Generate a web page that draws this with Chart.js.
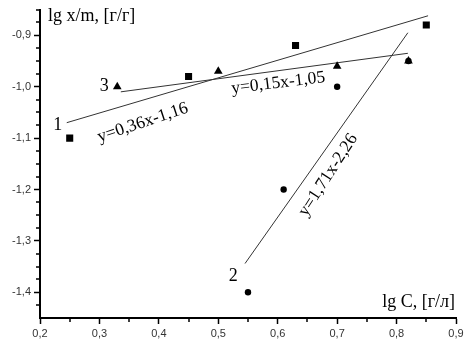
<!DOCTYPE html>
<html>
<head>
<meta charset="utf-8">
<script src="https://cdn.jsdelivr.net/npm/chart.js@4"></script>
<style>
  html, body { margin: 0; padding: 0; background: #fff; }
  #wrap { width: 471px; height: 347px; }
</style>
</head>
<body>
<div id="wrap"><canvas id="c"></canvas></div>
<script>
// lg C values and lg x/m values
const x1 = [0.25, 0.45, 0.63, 0.85];
const y1 = [-1.10, -0.98, -0.92, -0.88];
const x2 = [0.55, 0.61, 0.70, 0.82];
const y2 = [-1.40, -1.20, -1.00, -0.95];
const x3 = [0.33, 0.50, 0.70, 0.82];
const y3 = [-1.00, -0.97, -0.96, -0.95];

// fitted lines, end points as drawn
const fit1X = [0.245, 0.853];
const fit1Y = [-1.070, -0.862];
const fit2X = [0.545, 0.819];
const fit2Y = [-1.344, -0.895];
const fit3X = [0.336, 0.819];
const fit3Y = [-1.010, -0.935];

const xTicks = [0.2, 0.3, 0.4, 0.5, 0.6, 0.7, 0.8, 0.9];
const yTicks = [-1.4, -1.3, -1.2, -1.1, -1.0, -0.9];

const pts = (xs, ys) => xs.map((x, i) => ({ x: x, y: ys[i] }));
const fmt = v => v.toFixed(1).replace('.', ',');

// text written on the plot, anchored in data units
const notes = [
  { t: '1', x: 0.230, y: -1.076, rot: 0, size: 18 },
  { t: '3', x: 0.308, y: -1.000, rot: 0, size: 18 },
  { t: '2', x: 0.525, y: -1.368, rot: 0, size: 18 },
  { t: 'y=0,36x-1,16', x: 0.373, y: -1.070, rot: -18.5, size: 17.5 },
  { t: 'y=0,15x-1,05', x: 0.601, y: -0.993, rot: -7, size: 17.5 },
  { t: 'y=1,71x-2,26', x: 0.685, y: -1.172, rot: -57, size: 17.5 }
];

const extras = {
  id: 'extras',
  afterDraw(chart) {
    const c = chart.ctx, xs = chart.scales.x, ys = chart.scales.y;
    const a = chart.chartArea;
    c.save();
    // minor ticks
    c.strokeStyle = '#000';
    c.lineWidth = 1.5;
    c.beginPath();
    for (let v = 0.25; v < 0.9; v += 0.1) {
      const px = Math.round(xs.getPixelForValue(v));
      c.moveTo(px, a.bottom); c.lineTo(px, a.bottom + 4);
    }
    for (let v = -1.425; v < -0.85; v += 0.025) {
      if (Math.abs(v * 10 - Math.round(v * 10)) < 0.01) continue;
      const py = Math.round(ys.getPixelForValue(v));
      c.moveTo(a.left, py); c.lineTo(a.left - 4, py);
    }
    c.stroke();
    // axis titles
    c.fillStyle = '#000';
    c.font = '18px "Liberation Serif", serif';
    c.textBaseline = 'middle';
    c.textAlign = 'left';
    c.fillText('lg x/m, [г/г]', a.left + 8, 16);
    c.textAlign = 'right';
    c.fillText('lg C, [г/л]', a.right - 1, a.bottom - 16);
    // notes
    c.textAlign = 'center';
    notes.forEach(n => {
      c.save();
      c.translate(xs.getPixelForValue(n.x), ys.getPixelForValue(n.y));
      c.rotate(n.rot * Math.PI / 180);
      c.font = n.size + 'px "Liberation Serif", serif';
      c.fillText(n.t, 0, 0);
      c.restore();
    });
    c.restore();
  }
};

const lineStyle = { type: 'line', borderColor: '#333', borderWidth: 1, pointRadius: 0, fill: false, showLine: true };

new Chart(document.getElementById('c'), {
  type: 'scatter',
  data: {
    datasets: [
      Object.assign({ data: pts(fit1X, fit1Y), order: 5 }, lineStyle),
      Object.assign({ data: pts(fit2X, fit2Y), order: 6 }, lineStyle),
      Object.assign({ data: pts(fit3X, fit3Y), order: 4 }, lineStyle),
      { label: '1', data: pts(x1, y1), pointStyle: 'rect', pointRadius: 5, backgroundColor: '#000', borderColor: '#000', borderWidth: 0, order: 2 },
      { label: '2', data: pts(x2, y2), pointStyle: 'circle', pointRadius: 3.2, backgroundColor: '#000', borderColor: '#000', borderWidth: 0, order: 3 },
      { label: '3', data: pts(x3, y3), pointStyle: 'triangle', pointRadius: 5, backgroundColor: '#000', borderColor: '#000', borderWidth: 0, order: 1 }
    ]
  },
  options: {
    responsive: true,
    maintainAspectRatio: false,
    animation: false,
    layout: { padding: { top: 5, right: 15, left: 0, bottom: 0 } },
    plugins: { legend: { display: false }, tooltip: { enabled: false } },
    scales: {
      x: {
        type: 'linear', min: 0.2, max: 0.9,
        afterBuildTicks: s => { s.ticks = xTicks.map(v => ({ value: v })); },
        afterFit: s => { s.height = 29; },
        grid: { drawOnChartArea: false, tickLength: 6, tickWidth: 1.5, tickColor: '#000' },
        border: { color: '#000', width: 2 },
        ticks: { callback: v => fmt(v), color: '#333', padding: 3, font: { family: '"Liberation Sans", Arial, sans-serif', size: 11 }, maxRotation: 0, autoSkip: false }
      },
      y: {
        type: 'linear', min: -1.45, max: -0.85,
        afterBuildTicks: s => { s.ticks = yTicks.map(v => ({ value: v })); },
        afterFit: s => { s.width = 40; },
        grid: { drawOnChartArea: false, tickLength: 6, tickWidth: 1.5, tickColor: '#000' },
        border: { color: '#000', width: 2 },
        ticks: { callback: v => fmt(v), color: '#333', padding: 3, font: { family: '"Liberation Sans", Arial, sans-serif', size: 11 }, autoSkip: false }
      }
    }
  },
  plugins: [extras]
});
</script>
</body>
</html>
